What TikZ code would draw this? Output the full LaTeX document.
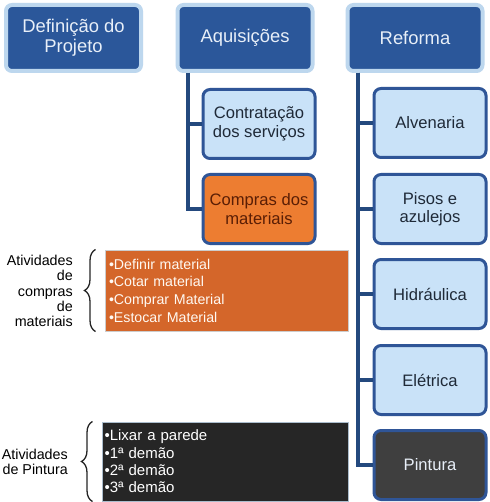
\documentclass[tikz,border=0pt]{standalone}
\usepackage{fontspec}
\setmainfont{Liberation Sans}
\usetikzlibrary{decorations.pathreplacing}
\definecolor{topfill}{HTML}{2B579A}
\definecolor{halo}{HTML}{BDD7EE}
\definecolor{toptext}{HTML}{E8EFF8}
\definecolor{childfill}{HTML}{C9E2F8}
\definecolor{childdraw}{HTML}{2F5597}
\definecolor{conncol}{HTML}{24497E}
\definecolor{orangefill}{HTML}{ED7D31}
\definecolor{orangetext}{HTML}{5A1E05}
\definecolor{listorange}{HTML}{D4662A}
\definecolor{listblack}{HTML}{262626}
\definecolor{pintfill}{HTML}{3F3F3F}
\definecolor{childtext}{HTML}{1F2A38}
\tikzset{
  topbox/.style={rectangle, rounded corners=6pt, fill=topfill, draw=halo, line width=4pt,
    minimum width=135pt, minimum height=66pt, text=toptext, align=center,
    font=\fontsize{18.4}{20}\selectfont, inner sep=2pt},
  childbox/.style={rectangle, rounded corners=7pt, fill=childfill, draw=childdraw, line width=3pt,
    minimum width=112pt, minimum height=69pt, text=childtext, align=center,
    font=\fontsize{16.6}{18.5}\selectfont, inner sep=2pt},
  conn/.style={draw=conncol, line width=4pt},
  listbox/.style={rectangle, align=left, line width=1pt},
  sidelabel/.style={align=right, font=\fontsize{14.3}{15.4}\selectfont, text=black, inner sep=0pt},
  bracestyle/.style={decorate, decoration={brace, amplitude=11pt}, line width=1.3pt, draw=black!85}
}
\begin{document}
\begin{tikzpicture}[x=1pt,y=-1pt]
\useasboundingbox[fill=white] (0,0) rectangle (489,502);
% top boxes
\node[topbox] (def) at (73.5,38) {Definição do\\Projeto};
\node[topbox] (aq) at (245,38) {Aquisições};
\node[topbox] (ref) at (415,38) {Reforma};
% Aquisições children
\node[childbox] (contr) at (259,124) {Contratação\\dos serviços};
\node[childbox, fill=orangefill, text=orangetext] (comp) at (259,209) {Compras dos\\materiais};
% Reforma children
\node[childbox] (alv) at (430,123) {Alvenaria};
\node[childbox] (pis) at (430,209) {Pisos e\\azulejos};
\node[childbox] (hid) at (430,294) {Hidráulica};
\node[childbox] (ele) at (430,380) {Elétrica};
\node[childbox, fill=pintfill, text=toptext] (pin) at (430,465) {Pintura};
% connectors
\coordinate (aqd) at ([xshift=12.5pt]aq.south west);
\coordinate (refd) at ([xshift=12.5pt]ref.south west);
\draw[conn] (aqd) |- (contr.west);
\draw[conn] (aqd) |- (comp.west);
\draw[conn] (refd) |- (alv.west);
\draw[conn] (refd) |- (pis.west);
\draw[conn] (refd) |- (hid.west);
\draw[conn] (refd) |- (ele.west);
\draw[conn] (refd) |- (pin.west);
% lists
\node[listbox, fill=listorange, draw=black!20, text=white!95!orange,
  minimum width=243pt, text width=235pt, minimum height=81pt, inner sep=4pt,
  font=\fontsize{14.2}{17.7}\selectfont] (l1) at (226.5,290.5)
  {•Definir material\\•Cotar material\\•Comprar Material\\•Estocar Material};
\node[listbox, fill=listblack, draw=halo!70!gray, text=white,
  minimum width=246pt, text width=241pt, minimum height=79pt, inner sep=2.5pt,
  font=\fontsize{15}{17.3}\selectfont] (l2) at (225,461.5)
  {•Lixar a parede\\•1ª demão\\•2ª demão\\•3ª demão};
% braces
\draw[bracestyle] ([xshift=-9pt]l1.south west) -- ([xshift=-9pt]l1.north west);
\draw[bracestyle] ([xshift=-9pt]l2.south west) -- ([xshift=-9pt]l2.north west);
% side labels
\node[sidelabel, anchor=east] (lab1) at (73,291) {Atividades\\de\\compras\\de\\materiais};
\node[sidelabel, anchor=east] (lab2) at (68,462) {Atividades\\de Pintura};
\end{tikzpicture}
\end{document}
